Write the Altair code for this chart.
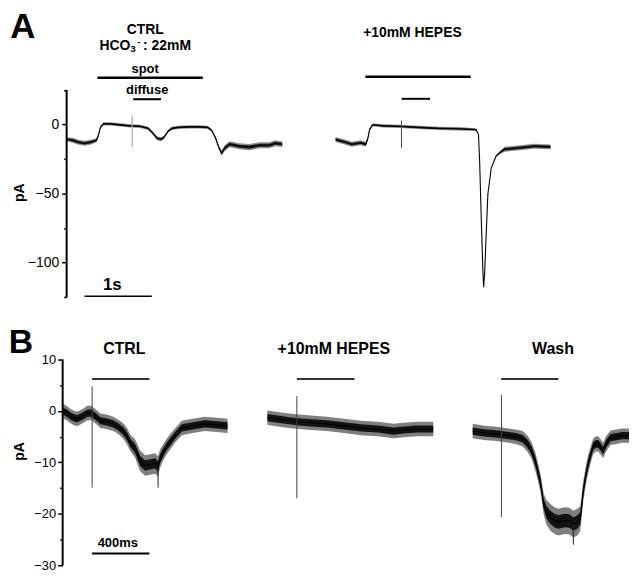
import altair as alt
import pandas as pd

FONT = "Liberation Sans"

# ---------------- Panel A (time in s, current in pA) ----------------
a_ctrl_t = [0.000, 0.090, 0.179, 0.269, 0.358, 0.448, 0.478, 0.507, 0.552, 0.657, 0.806, 0.955,
            1.104, 1.224, 1.299, 1.358, 1.418, 1.463, 1.522, 1.582, 1.672, 1.851, 2.000, 2.119,
            2.179, 2.239, 2.284, 2.328, 2.373, 2.448, 2.597, 2.746, 2.896, 3.045, 3.134, 3.239]
a_ctrl_i = [-10.8, -11.5, -12.9, -13.7, -12.9, -11.5, -7.9, -2.2, 0.4, 0.4, -0.4, -1.1,
            -1.4, -2.9, -6.5, -10.1, -10.8, -9.4, -5.0, -2.9, -2.2, -1.8, -1.8, -2.2,
            -4.3, -10.1, -16.5, -20.9, -17.3, -14.4, -15.8, -16.5, -15.1, -15.1, -13.7, -14.4]
a_ctrl_noise = [1.5, 1.8, 1.8, 1.8, 1.8, 1.5, 1.0, 1.0, 1.2, 1.2, 1.2, 1.2,
                1.2, 1.2, 1.2, 1.5, 1.5, 1.2, 1.0, 1.2, 1.2, 1.2, 1.2, 1.2,
                1.0, 1.0, 1.5, 2.0, 2.2, 2.2, 2.2, 2.2, 2.2, 2.2, 2.2, 2.0]

a_hepes_t = [4.040, 4.164, 4.284, 4.418, 4.493, 4.522, 4.552, 4.597, 4.761, 4.985, 5.284, 5.582,
             5.881, 6.149, 6.187, 6.204, 6.228, 6.254, 6.264, 6.279, 6.303, 6.328, 6.378, 6.452,
             6.503, 6.578, 6.776, 7.025, 7.269]
a_hepes_i = [-11.0, -12.6, -14.4, -13.3, -14.4, -10.8, -3.6, -0.4, -1.1, -1.4, -2.2, -2.9,
             -3.2, -3.8, -7.2, -26.6, -67.4, -107.9, -118.0, -107.9, -79.1, -50.4, -31.7, -23.0,
             -20.6, -18.0, -17.1, -15.8, -16.3]
a_hepes_noise = [1.8, 1.8, 1.8, 1.8, 1.8, 1.0, 0.8, 1.0, 1.2, 1.2, 1.2, 1.2,
                 1.2, 1.0, 0.0, 0.0, 0.0, 0.0, 0.0, 0.0, 0.0, 0.0, 0.0, 0.5,
                 1.2, 1.8, 1.8, 1.8, 1.8]

# stimulus artefacts (time, top, bottom)
a_art_ctrl = (0.985, 6.5, -16.5)
a_art_hepes = (5.030, 2.7, -17.0)

# application bars: (start, end, level)
a_spot_bars = [(0.463, 2.045, 33.8), (4.488, 6.070, 34.5)]
a_diffuse_bars = [(1.000, 1.418, 18.2), (5.034, 5.458, 18.5)]
a_scale_bar = (0.269, 1.279, -124.5)
a_axis_span = (-125, 25)
a_ticks = [25, 0, -25, -50, -75, -100, -125]

# ---------------- Panel B (time in ms, current in pA) ----------------
b_ctrl_t = [0, 28, 56, 84, 105, 140, 174, 202, 237, 265, 307, 356, 391, 426, 454, 475, 509, 544,
            579, 614, 649, 670, 684, 705, 733, 761, 789, 837, 914, 998, 1082, 1158]
b_ctrl_i = [0.0, -0.4, -1.0, -1.4, -1.5, -1.0, -0.4, -0.4, -1.2, -1.9, -2.1, -2.5, -3.1, -3.9,
            -5.0, -6.2, -7.3, -9.7, -10.6, -10.4, -10.2, -10.8, -9.3, -8.1, -6.8, -5.8, -4.8, -3.3,
            -2.9, -2.5, -2.7, -2.9]
b_ctrl_noise = [1.4, 1.4, 1.4, 1.4, 1.4, 1.4, 1.4, 1.4, 1.4, 1.4, 1.4, 1.4, 1.4, 1.5,
                1.6, 1.6, 1.8, 2.0, 2.0, 2.0, 2.0, 2.0, 1.8, 1.6, 1.5, 1.5, 1.4, 1.4,
                1.4, 1.4, 1.4, 1.4]

b_hepes_t = [1438, 1486, 1535, 1591, 1661, 1745, 1856, 1975, 2094, 2212, 2324, 2394, 2491, 2603]
b_hepes_i = [-1.3, -1.5, -1.7, -1.9, -2.1, -2.3, -2.5, -2.9, -3.3, -3.5, -3.9, -3.7, -3.5, -3.5]
b_hepes_noise = [1.4, 1.4, 1.4, 1.4, 1.4, 1.4, 1.4, 1.4, 1.4, 1.4, 1.4, 1.4, 1.4, 1.4]

b_wash_t = [2880, 2924, 2973, 3029, 3084, 3133, 3182, 3231, 3266, 3294, 3322, 3343, 3357, 3378,
            3398, 3426, 3454, 3482, 3510, 3531, 3559, 3587, 3615, 3636, 3657, 3678, 3692, 3713,
            3727, 3747, 3761, 3782, 3796, 3817, 3848, 3890, 3931, 3978]
b_wash_i = [-3.9, -4.1, -4.3, -4.4, -4.6, -4.8, -5.0, -5.4, -6.4, -7.7, -10.0, -12.4, -14.1, -18.0,
            -19.7, -20.7, -21.3, -21.6, -21.4, -21.3, -21.4, -22.0, -21.6, -20.9, -15.5, -12.0, -10.2,
            -8.1, -6.8, -6.4, -6.4, -7.1, -7.7, -6.4, -5.2, -5.0, -4.8, -4.8]
b_wash_noise = [1.4, 1.4, 1.4, 1.4, 1.4, 1.4, 1.4, 1.5, 1.6, 1.6, 1.8, 1.8, 1.8, 2.0,
                2.4, 2.6, 2.6, 2.6, 2.6, 2.6, 2.6, 2.6, 2.6, 2.4, 2.0, 1.8, 1.8,
                1.6, 1.5, 1.5, 1.5, 1.5, 1.5, 1.5, 1.4, 1.4, 1.4, 1.4]

b_artefacts = [(207, 4.8, -14.9), (1645, 2.9, -17.0), (3082, 3.1, -20.6)]
b_noise_spikes = [(670, -10.8, -14.9), (3587, -22.0, -26.0)]
b_bars = [(207, 609, 6.24), (1645, 2050, 6.24), (3080, 3482, 6.24)]
b_scale_bar = (207, 609, -27.7)
b_axis_span = (-30, 10)
b_ticks = [10, 5, 0, -5, -10, -15, -20, -25, -30]


def trace_df(name, t, i, n):
    return pd.DataFrame({
        "trace": name, "t": t, "v": i,
        "lo": [a - b for a, b in zip(i, n)], "hi": [a + b for a, b in zip(i, n)],
        "lo2": [a - 0.5 * b for a, b in zip(i, n)], "hi2": [a + 0.5 * b for a, b in zip(i, n)],
    })


def seg_df(rows, cols):
    return pd.DataFrame(rows, columns=cols)


def build(xs, ys, width, height, traces, ticks, major, label_size, label_pad, offset,
          axis_span, rule_sets, bar_sets, text_sets, op_outer, op_inner):
    yaxis = alt.Axis(values=ticks, labelExpr=f"datum.value % {major} === 0 ? datum.label : ''",
                     domain=False, grid=False, title=None, tickColor="black", tickWidth=1.5,
                     tickSize={"condition": {"test": f"datum.value % {major} === 0", "value": 5}, "value": 3},
                     labelFont=FONT, labelFontSize=label_size, labelColor="black",
                     labelPadding=label_pad, offset=offset)

    def X(f):
        return alt.X(f, type="quantitative", scale=xs, axis=None)

    def Y(f):
        return alt.Y(f, type="quantitative", scale=ys, axis=yaxis)

    df = pd.concat([trace_df(*tr) for tr in traces], ignore_index=True)
    base = alt.Chart(df)
    layers = [
        base.mark_area(color="#000", opacity=op_outer, interpolate="linear").encode(
            x=X("t"), y=Y("lo"), y2="hi", detail="trace:N"),
        base.mark_area(color="#000", opacity=op_inner, interpolate="linear").encode(
            x=X("t"), y=Y("lo2"), y2="hi2", detail="trace:N"),
        base.mark_line(color="#000", strokeWidth=1.1).encode(x=X("t"), y=Y("v"), detail="trace:N"),
        alt.Chart(seg_df([(0, axis_span[0], axis_span[1])], ["t", "y1", "y2"])).mark_rule(
            color="black", strokeWidth=2).encode(x=X("t"), y=Y("y1"), y2="y2"),
    ]
    for rows, color, w in rule_sets:
        layers.append(alt.Chart(seg_df(rows, ["t", "y1", "y2"])).mark_rule(
            color=color, strokeWidth=w).encode(x=X("t"), y=Y("y1"), y2="y2"))
    for rows, w, color in bar_sets:
        layers.append(alt.Chart(seg_df(rows, ["t1", "t2", "y"])).mark_rule(
            color=color, strokeWidth=w).encode(x=X("t1"), x2="t2", y=Y("y")))
    for rows, size, align, angle in text_sets:
        layers.append(alt.Chart(seg_df(rows, ["t", "y", "label"])).mark_text(
            font=FONT, fontWeight="bold", fontSize=size, color="black", baseline="middle",
            align=align, angle=angle).encode(x=X("t"), y=Y("y"), text="label:N"))
    return alt.layer(*layers).properties(width=width, height=height)


xsA = alt.Scale(domain=[-0.0597, 8.448], nice=False, zero=False)
ysA = alt.Scale(domain=[-125, 80.8], nice=False, zero=False)
panelA = build(
    xsA, ysA, 570, 286,
    [("ctrl", a_ctrl_t, a_ctrl_i, a_ctrl_noise), ("hepes", a_hepes_t, a_hepes_i, a_hepes_noise)],
    a_ticks, 50, 14, 3, -4, a_axis_span,
    [([a_art_ctrl], "#aaaaaa", 1.2), ([a_art_hepes], "#444444", 1.0)],
    [(a_spot_bars, 2.5, "black"), (a_diffuse_bars, 2.0, "black"), ([a_scale_bar], 1.5, "black")],
    [
        ([(1.18, 68.3, "CTRL"), (5.194, 66.2, "+10mM HEPES")], 14, "center", 0),
        ([(0.493, 56.8, "HCO"), (1.149, 56.8, ": 22mM")], 14, "left", 0),
        ([(0.955, 54.3, "3")], 10, "left", 0),
        ([(1.06, 59.8, "-")], 9, "left", 0),
        ([(1.18, 40.3, "spot"), (1.21, 25.2, "diffuse")], 13, "center", 0),
        ([(0.687, -116.5, "1s")], 17, "center", 0),
        ([(-0.657, 70.5, "A")], 35, "center", 0),
        ([(-0.701, -49.6, "pA")], 14, "center", 270),
    ],
    0.45, 0.75,
)

xsB = alt.Scale(domain=[0, 3978], nice=False, zero=False)
ysB = alt.Scale(domain=[-30, 15.41], nice=False, zero=False)
panelB = build(
    xsB, ysB, 570, 235,
    [("ctrl", b_ctrl_t, b_ctrl_i, b_ctrl_noise), ("hepes", b_hepes_t, b_hepes_i, b_hepes_noise),
     ("wash", b_wash_t, b_wash_i, b_wash_noise)],
    b_ticks, 10, 13, 2, 0, b_axis_span,
    [(b_artefacts, "#444444", 1.0), (b_noise_spikes, "#222222", 1.0)],
    [(b_bars, 2.0, "#333333"), ([b_scale_bar], 2.0, "black")],
    [
        ([(433, 12.0, "CTRL"), (1905, 12.0, "+10mM HEPES"), (3444, 12.0, "Wash")], 16, "center", 0),
        ([(387, -25.6, "400ms")], 13, "center", 0),
        ([(-293, 13.3, "B")], 34, "center", 0),
        ([(-300, -7.9, "pA")], 14, "center", 270),
    ],
    0.5, 0.85,
)

chart = alt.vconcat(panelA, panelB, spacing=27).properties(
    padding={"left": 0, "top": 0, "right": 0, "bottom": 0},
    background="white",
).configure_view(strokeWidth=0, stroke="transparent")

chart.save("out.html", embed_options={"renderer": "svg", "actions": False})
